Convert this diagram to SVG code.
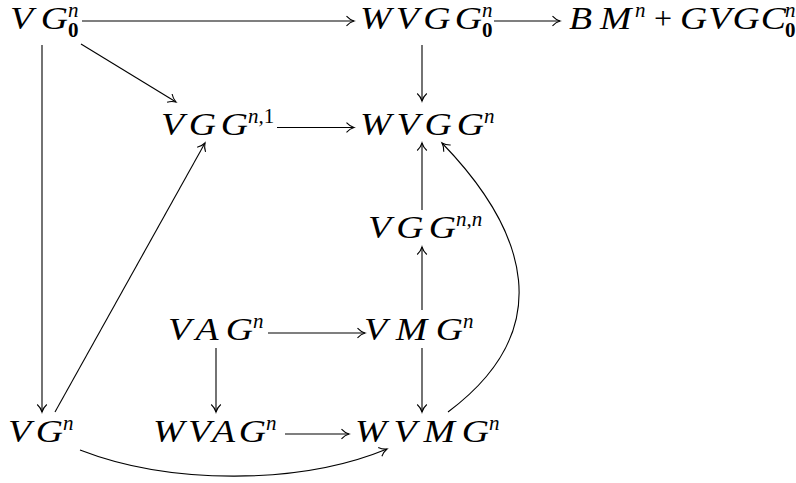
<svg xmlns="http://www.w3.org/2000/svg" width="796" height="483" viewBox="0 0 796 483">
<style>
.b{font-family:"Liberation Serif",serif;font-style:italic;font-size:32px;fill:#000}
.s{font-family:"Liberation Serif",serif;font-style:italic;font-size:21px;fill:#000}
.u{font-style:normal}
.z{font-family:"Liberation Serif",serif;font-weight:bold;font-size:21px;fill:#000}
.p{font-family:"Liberation Serif",serif;font-size:32px;fill:#000}
.c path,.c line{fill:none;stroke:#000;stroke-width:1.1}
</style>
<defs>
<marker id="ah" markerUnits="userSpaceOnUse" markerWidth="12" markerHeight="12" viewBox="-8 -6 10 12" refX="0" refY="0" orient="auto">
<path d="M-7.5,-4.8 C-5,-2 -2,-0.6 0,0 C-2,0.6 -5,2 -7.5,4.8" fill="none" stroke="#000" stroke-width="1.1"/>
</marker>
</defs>
<rect width="796" height="483" fill="#fff"/>
<g id="VG0"><text class="b" transform="translate(10,29) scale(1.18,1)" textLength="49.2" lengthAdjust="spacing">VG</text><text class="s" x="68" y="17">n</text><text class="z" x="68" y="37">0</text></g>
<g id="WVGG0"><text class="b" transform="translate(360,29) scale(1.18,1)" textLength="103.4" lengthAdjust="spacing">WVGG</text><text class="s" x="482" y="17">n</text><text class="z" x="482" y="37">0</text></g>
<g id="BMGVGC"><text class="b" transform="translate(569,29) scale(1.18,1)" textLength="53" lengthAdjust="spacing">BM</text><text class="s" x="635" y="17">n</text><text class="p" x="654" y="29">+</text><text class="b" transform="translate(680,29) scale(1.18,1)" textLength="89.8" lengthAdjust="spacing">GVGC</text><text class="s" x="785" y="17">n</text><text class="z" x="785" y="37">0</text></g>
<g id="VGGn1"><text class="b" transform="translate(161,135) scale(1.18,1)" textLength="73.7" lengthAdjust="spacing">VGG</text><text class="s" x="248" y="123">n,<tspan class="u">1</tspan></text></g>
<g id="WVGG"><text class="b" transform="translate(360,135) scale(1.18,1)" textLength="105.1" lengthAdjust="spacing">WVGG</text><text class="s" x="484" y="123">n</text></g>
<g id="VGGnn"><text class="b" transform="translate(368,238) scale(1.18,1)" textLength="74.6" lengthAdjust="spacing">VGG</text><text class="s" x="456" y="226">n,n</text></g>
<g id="VAG"><text class="b" transform="translate(168,340) scale(1.18,1)" textLength="72" lengthAdjust="spacing">VAG</text><text class="s" x="253" y="328">n</text></g>
<g id="VMG"><text class="b" transform="translate(364,340) scale(1.18,1)" textLength="83.9" lengthAdjust="spacing">VMG</text><text class="s" x="463" y="328">n</text></g>
<g id="VG"><text class="b" transform="translate(8,442) scale(1.18,1)" textLength="46.6" lengthAdjust="spacing">VG</text><text class="s" x="63" y="430">n</text></g>
<g id="WVAG"><text class="b" transform="translate(153,442) scale(1.18,1)" textLength="95.8" lengthAdjust="spacing">WVAG</text><text class="s" x="266" y="430">n</text></g>
<g id="WVMG"><text class="b" transform="translate(355,442) scale(1.18,1)" textLength="113.6" lengthAdjust="spacing">WVMG</text><text class="s" x="489" y="430">n</text></g>
<g id="connectors" class="c">
<line x1="82" y1="21" x2="354" y2="21" marker-end="url(#ah)"/>
<line x1="494" y1="21" x2="560" y2="21" marker-end="url(#ah)"/>
<line x1="81" y1="44" x2="176" y2="102" marker-end="url(#ah)"/>
<line x1="42" y1="45" x2="42" y2="412" marker-end="url(#ah)"/>
<line x1="55" y1="412" x2="205" y2="143" marker-end="url(#ah)"/>
<line x1="277" y1="127.5" x2="354" y2="127.5" marker-end="url(#ah)"/>
<line x1="422" y1="45" x2="422" y2="101" marker-end="url(#ah)"/>
<line x1="422" y1="210" x2="422" y2="143" marker-end="url(#ah)"/>
<line x1="422" y1="310" x2="422" y2="247" marker-end="url(#ah)"/>
<line x1="268" y1="333" x2="365" y2="333" marker-end="url(#ah)"/>
<line x1="216" y1="348" x2="216" y2="412" marker-end="url(#ah)"/>
<line x1="422" y1="348" x2="422" y2="412" marker-end="url(#ah)"/>
<line x1="285" y1="434" x2="349" y2="434" marker-end="url(#ah)"/>
<path d="M448,412 C558,330 528,232 442,143" marker-end="url(#ah)"/>
<path d="M80,450 C170,485 300,485 387,449" marker-end="url(#ah)"/>
</g>
</svg>
